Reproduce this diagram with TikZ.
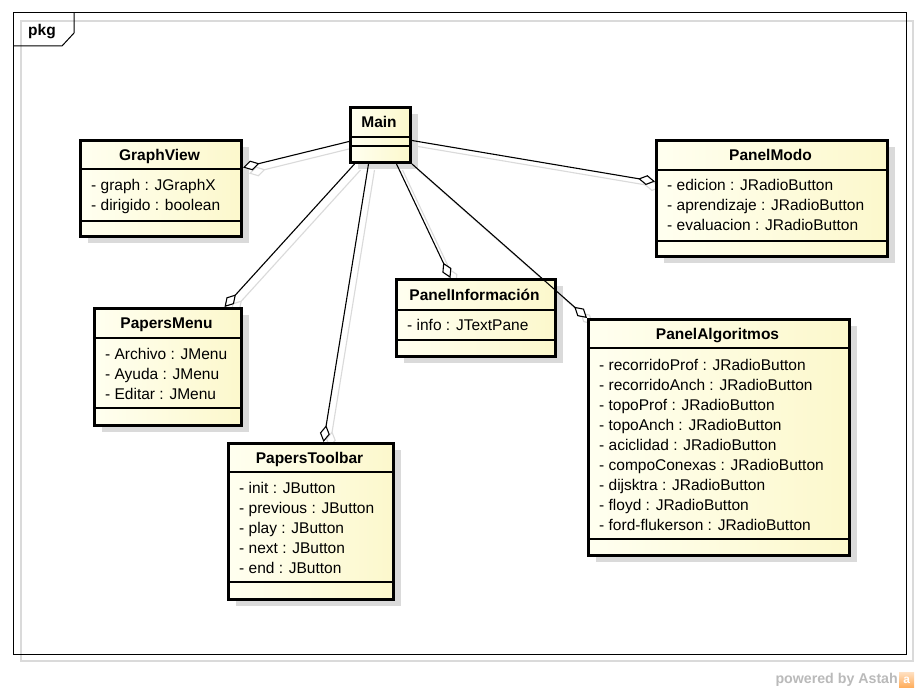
\documentclass[tikz,border=0pt]{standalone}
\usepackage{fontspec}
\setmainfont{Liberation Sans}
\usetikzlibrary{positioning,backgrounds,shadows,calc,arrows.meta}
\definecolor{classlight}{RGB}{255,255,240}
\definecolor{classdark}{RGB}{252,248,204}
\definecolor{shadowgray}{RGB}{218,218,218}
\definecolor{astahgray}{RGB}{186,186,186}

\begin{document}
\begin{tikzpicture}[x=1pt,y=-1pt,
	classbox/.style={draw,line width=3pt,left color=classlight,right color=classdark,
		drop shadow={shadow xshift=7pt,shadow yshift=-6pt,fill=shadowgray,opacity=1},
		inner sep=0pt,anchor=north west},
	classname/.style={font=\fontsize{15.5}{18}\bfseries,text height=11pt,text depth=3pt,inner sep=0pt},
	attr/.style={font=\fontsize{15.5}{18}\selectfont,text height=11pt,text depth=3pt,inner sep=0pt,anchor=west},
	sepline/.style={line width=1.5pt},
	aggr/.style={line width=1.1pt,-{Diamond[fill=white,length=17pt,width=10pt]}},
	aggrshadow/.style={aggr,draw=shadowgray,transform canvas={xshift=6pt,yshift=-6pt}}]
	\useasboundingbox (0,0) rectangle (920,693);
	\begin{scope}[on background layer]
	\fill[white] (0,0) rectangle (920,693);
	\draw[shadowgray,line width=1.5pt] (21,21) rectangle (913,661);
	\end{scope}
	% package frame
	\draw[line width=1pt] (13,13) rectangle (906,654);
	\draw[line width=1pt] (13,46) -- (62,46) -- (74,33) -- (74,13);
	\node[font=\fontsize{15.5}{18}\bfseries,anchor=west,inner sep=0pt] (pkg) at (28,32) {pkg};
	
	% Main
	\node[classbox,minimum width=60pt,minimum height=55pt] (main) at (349,106) {};
	\node[classname] (main-name) at (379,123) {Main};
	\draw[sepline] (main.west |- 0,137) -- (main.east |- 0,137);
	\draw[sepline] (main.west |- 0,146) -- (main.east |- 0,146);
	
	% GraphView
	\node[classbox,minimum width=161pt,minimum height=96pt] (graphview) at (79,139) {};
	\node[classname] (graphview-name) at (159.5,156) {GraphView};
	\draw[sepline] (graphview.west |- 0,169) -- (graphview.east |- 0,169);
	\draw[sepline] (graphview.west |- 0,221) -- (graphview.east |- 0,221);
	\foreach \a [count=\i] in {- graph : JGraphX, - dirigido : boolean}
		\node[attr] (graphview-\i) at (91,166+20*\i) {\a};
	
	% PanelModo
	\node[classbox,minimum width=231pt,minimum height=116pt] (panelmodo) at (655,139) {};
	\node[classname] (panelmodo-name) at (770.5,156) {PanelModo};
	\draw[sepline] (panelmodo.west |- 0,170) -- (panelmodo.east |- 0,170);
	\draw[sepline] (panelmodo.west |- 0,241) -- (panelmodo.east |- 0,241);
	\foreach \a [count=\i] in {- edicion : JRadioButton, - aprendizaje : JRadioButton, - evaluacion : JRadioButton}
		\node[attr] (panelmodo-\i) at (667,166+20*\i) {\a};
	
	% PanelInformacion
	\node[classbox,minimum width=159pt,minimum height=77pt] (panelinfo) at (395,278) {};
	\node[classname] (panelinfo-name) at (474.5,296) {PanelInformación};
	\draw[sepline] (panelinfo.west |- 0,310) -- (panelinfo.east |- 0,310);
	\draw[sepline] (panelinfo.west |- 0,340) -- (panelinfo.east |- 0,340);
	\node[attr] (panelinfo-1) at (407,326) {- info : JTextPane};
	
	% PanelAlgoritmos
	\node[classbox,minimum width=261pt,minimum height=236pt] (panelalg) at (587,318) {};
	\node[classname] (panelalg-name) at (717.5,335) {PanelAlgoritmos};
	\draw[sepline] (panelalg.west |- 0,348) -- (panelalg.east |- 0,348);
	\draw[sepline] (panelalg.west |- 0,539) -- (panelalg.east |- 0,539);
	\foreach \a [count=\i] in {- recorridoProf : JRadioButton, - recorridoAnch : JRadioButton,
		- topoProf : JRadioButton, - topoAnch : JRadioButton, - aciclidad : JRadioButton,
		- compoConexas : JRadioButton, - dijsktra : JRadioButton, - floyd : JRadioButton,
		- ford-flukerson : JRadioButton}
		\node[attr] (panelalg-\i) at (599,346+20.1*\i) {\a};
	
	% PapersMenu
	\node[classbox,minimum width=147pt,minimum height=117pt] (papersmenu) at (93,307) {};
	\node[classname] (papersmenu-name) at (166.5,324) {PapersMenu};
	\draw[sepline] (papersmenu.west |- 0,338) -- (papersmenu.east |- 0,338);
	\draw[sepline] (papersmenu.west |- 0,408) -- (papersmenu.east |- 0,408);
	\foreach \a [count=\i] in {- Archivo : JMenu, - Ayuda : JMenu, - Editar : JMenu}
		\node[attr] (papersmenu-\i) at (105,335+20*\i) {\a};
	
	% PapersToolbar
	\node[classbox,minimum width=165pt,minimum height=156pt] (paperstoolbar) at (227,442) {};
	\node[classname] (paperstoolbar-name) at (309.5,459) {PapersToolbar};
	\draw[sepline] (paperstoolbar.west |- 0,472) -- (paperstoolbar.east |- 0,472);
	\draw[sepline] (paperstoolbar.west |- 0,582) -- (paperstoolbar.east |- 0,582);
	\foreach \a [count=\i] in {- init : JButton, - previous : JButton, - play : JButton, - next : JButton, - end : JButton}
		\node[attr] (paperstoolbar-\i) at (239,469+20*\i) {\a};
	
	% aggregations
	\draw[aggr] ([yshift=-6.5pt]main.west) -- ([yshift=21pt]graphview.east);
	\draw[aggr] ([yshift=-5.5pt]main.east) -- ([yshift=17pt]panelmodo.west);
	\draw[aggr] ([xshift=16pt]main.south) -- ([xshift=-25.5pt]panelinfo.north);
	\draw[aggr] (main.south east) -- (panelalg.north west);
	\draw[aggr] ([xshift=-26pt]main.south) -- ([xshift=56.5pt]papersmenu.north);
	\draw[aggr] ([xshift=-12pt]main.south) -- ([xshift=12.5pt]paperstoolbar.north);
	\begin{scope}[on background layer]
	\draw[aggrshadow] ([yshift=-6.5pt]main.west) -- ([yshift=21pt]graphview.east);
	\draw[aggrshadow] ([yshift=-5.5pt]main.east) -- ([yshift=17pt]panelmodo.west);
	\draw[aggrshadow] ([xshift=16pt]main.south) -- ([xshift=-25.5pt]panelinfo.north);
	\draw[aggrshadow] (main.south east) -- (panelalg.north west);
	\draw[aggrshadow] ([xshift=-26pt]main.south) -- ([xshift=56.5pt]papersmenu.north);
	\draw[aggrshadow] ([xshift=-12pt]main.south) -- ([xshift=12.5pt]paperstoolbar.north);
	\end{scope}
	
	% watermark
	\node[font=\fontsize{14.2}{16}\bfseries,text=astahgray,anchor=east,inner sep=0pt] (powered) at (898,680) {powered by Astah};
	\node[top color=orange!25,bottom color=orange!65,minimum size=15pt,inner sep=0pt,anchor=west,
		font=\fontsize{12}{12}\bfseries,text=white] (astahlogo) at (899,680) {a};
\end{tikzpicture}
\end{document}
